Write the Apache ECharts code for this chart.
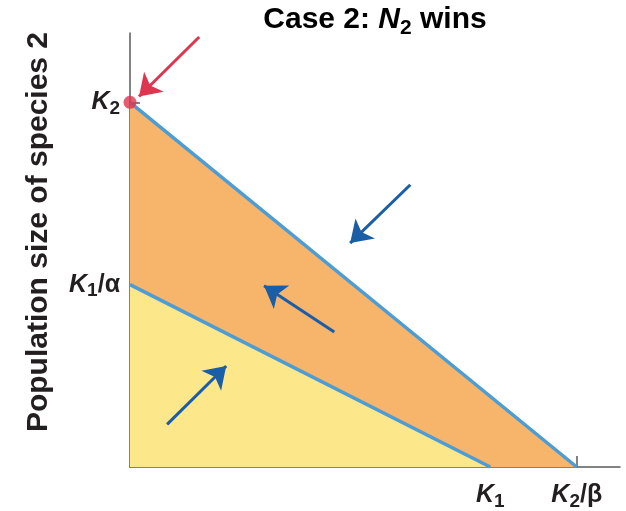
<!DOCTYPE html>
<html>
<head>
<meta charset="utf-8">
<script src="https://cdn.jsdelivr.net/npm/echarts@6/dist/echarts.min.js"></script>
<style>
  html, body { margin: 0; padding: 0; background: #ffffff; }
  #chart { width: 626px; height: 511px; }
</style>
</head>
<body>
<div id="chart"></div>
<script>
// Lotka–Volterra competition, case 2: isoclines in the (N1, N2) plane.
// Axis units: K1 = 100 on the N1 axis, K2 = 100 on the N2 axis.
const K1 = 100;          // species 1 isocline meets N1 axis
const K2_over_beta = 124; // species 2 isocline meets N1 axis
const K2 = 100;          // species 2 isocline meets N2 axis
const K1_over_alpha = 50; // species 1 isocline meets N2 axis
const xMax = 136;
const yMax = 119;

// Isoclines (end points)
const isoSpecies2 = [[0, K2], [K2_over_beta, 0]];
const isoSpecies1 = [[0, K1_over_alpha], [K1, 0]];

// Tick values and their labels
const xTicks = [K1, K2_over_beta];
const xTickLabels = ['{k|K}{s|1}', '{k|K}{s|2}{g|/β}'];
const yTicks = [K1_over_alpha, K2];
const yTickLabels = ['{k|K}{s|1}{g|/α}', '{k|K}{s|2}'];

// Trajectory arrows [start, end]
const blueArrows = [
  [[77.8, 77.4], [61.1, 61.4]],
  [[56.7, 37.0], [37.2, 49.7]],
  [[10.3, 11.7], [26.7, 27.7]]
];
const redArrow = [[19.2, 117.9], [2.5, 101.6]];
const equilibrium = [[0, K2]];

const FONT = '"Liberation Sans", Arial, Helvetica, sans-serif';
const TEXT = '#231f20';
const AXIS = '#5a5a5a';
const ISO = '#4c9dd6';
const ORANGE = '#f7b46b';
const YELLOW = '#fde78b';
const DARKBLUE = '#1b5ea8';
const RED = '#e0354f';

const labelRich = {
  k: { fontFamily: FONT, fontSize: 25, fontWeight: 'bold', fontStyle: 'italic', color: TEXT, lineHeight: 25, verticalAlign: 'top' },
  g: { fontFamily: FONT, fontSize: 25, fontWeight: 'bold', color: TEXT, lineHeight: 25, verticalAlign: 'top' },
  s: { fontFamily: FONT, fontSize: 19, fontWeight: 'bold', color: TEXT, lineHeight: 19, padding: [9, 0, 0, 0], verticalAlign: 'top' }
};

function tickLabel(values, labels) {
  return function (v) {
    const i = values.indexOf(v);
    return i >= 0 ? labels[i] : '';
  };
}

const chart = echarts.init(document.getElementById('chart'), null, { renderer: 'canvas' });

chart.setOption({
  animation: false,
  backgroundColor: '#ffffff',
  grid: { left: 130, right: 6, top: 33, bottom: 40 },
  xAxis: {
    type: 'value', min: 0, max: xMax,
    splitLine: { show: false },
    axisLine: { show: true, lineStyle: { color: AXIS, width: 1.5 } },
    axisTick: { show: true, inside: true, length: 11, customValues: xTicks, lineStyle: { color: AXIS, width: 1.5 } },
    axisLabel: { show: true, margin: 16, customValues: xTicks, formatter: tickLabel(xTicks, xTickLabels), rich: labelRich }
  },
  yAxis: {
    type: 'value', min: 0, max: yMax,
    splitLine: { show: false },
    axisLine: { show: true, lineStyle: { color: AXIS, width: 1.5 } },
    axisTick: { show: true, inside: true, length: 10, customValues: yTicks, lineStyle: { color: AXIS, width: 1.5 } },
    axisLabel: { show: true, margin: 10, customValues: yTicks, formatter: tickLabel(yTicks, yTickLabels), rich: labelRich }
  },
  graphic: [
    {
      type: 'text', x: 375, y: 5,
      style: {
        text: '{a|Case 2: }{n|N}{s|2}{a| wins}',
        align: 'center', verticalAlign: 'top',
        rich: {
          a: { fontFamily: FONT, fontSize: 30, fontWeight: 'bold', color: TEXT, lineHeight: 31, verticalAlign: 'top' },
          n: { fontFamily: FONT, fontSize: 30, fontWeight: 'bold', fontStyle: 'italic', color: TEXT, lineHeight: 31, verticalAlign: 'top' },
          s: { fontFamily: FONT, fontSize: 21, fontWeight: 'bold', color: TEXT, lineHeight: 21, padding: [13, 0, 0, 0], verticalAlign: 'top' }
        }
      }
    },
    {
      type: 'text', x: 39, y: 232, rotation: Math.PI / 2,
      style: {
        text: 'Population size of species 2',
        fontFamily: FONT, fontSize: 30, fontWeight: 'bold', fill: TEXT,
        align: 'center', verticalAlign: 'middle'
      }
    }
  ],
  series: [
    {
      type: 'line', data: isoSpecies2, symbol: 'none', z: 2,
      lineStyle: { color: ISO, width: 3.5 },
      areaStyle: { color: ORANGE, opacity: 1 }
    },
    {
      type: 'line', data: isoSpecies1, symbol: 'none', z: 3,
      lineStyle: { color: ISO, width: 3.5 },
      areaStyle: { color: YELLOW, opacity: 1 }
    },
    {
      type: 'lines', coordinateSystem: 'cartesian2d', z: 5,
      symbol: ['none', 'arrow'], symbolSize: [18, 21],
      lineStyle: { color: DARKBLUE, width: 3, opacity: 1, curveness: 0 },
      data: blueArrows.map(function (c) { return { coords: c }; })
    },
    {
      type: 'lines', coordinateSystem: 'cartesian2d', z: 5,
      symbol: ['none', 'arrow'], symbolSize: [18, 21],
      lineStyle: { color: RED, width: 3, opacity: 1, curveness: 0 },
      data: [{ coords: redArrow }]
    },
    {
      type: 'scatter', data: equilibrium, clip: false, z: 6,
      symbol: 'circle', symbolSize: 13,
      itemStyle: { color: RED }
    }
  ]
});
</script>
</body>
</html>
